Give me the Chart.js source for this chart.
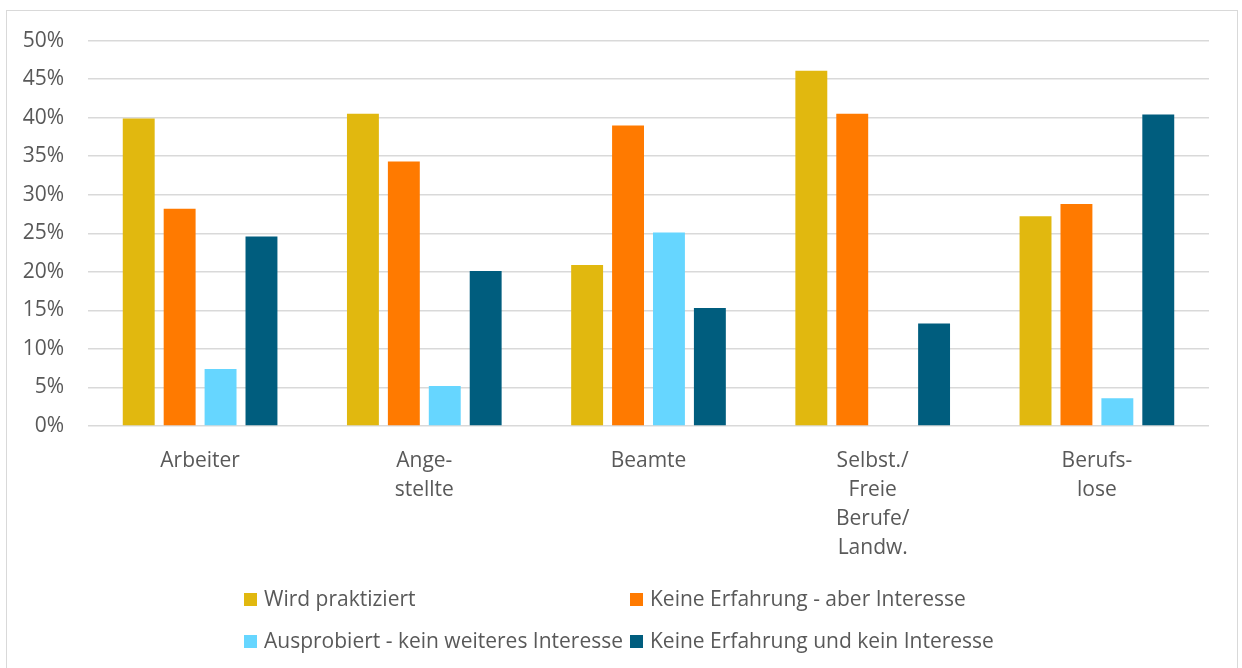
<!DOCTYPE html>
<html>
<head>
<meta charset="utf-8">
<script src="https://cdn.jsdelivr.net/npm/chart.js@4.4.0/dist/chart.umd.min.js"></script>
<style>
  html, body { margin: 0; padding: 0; background: #fff; overflow: hidden; }
  .chart-box {
    position: absolute; left: 6px; top: 10px;
    width: 1230px; height: 670px;
    border: 1px solid #d9d9d9;
    overflow: hidden;
  }
  canvas { display: block; margin-top: -7px; }
</style>
</head>
<body>
<div class="chart-box">
  <canvas id="chart" width="1230" height="664"></canvas>
</div>
<script>
// categories (multi-line labels as in the original)
const categories = [
  'Arbeiter',
  ['Ange-', 'stellte'],
  'Beamte',
  ['Selbst./', 'Freie', 'Berufe/', 'Landw.'],
  ['Berufs-', 'lose']
];

// values in percent
const wirdPraktiziert   = [39.9, 40.5, 20.9, 46.1, 27.2];
const keineErfAberInt   = [28.2, 34.3, 39.0, 40.5, 28.8];
const ausprobiertKein   = [7.4, 5.2, 25.1, null, 3.6];
const keineErfKeinInt   = [24.6, 20.1, 15.3, 13.3, 40.4];

const seriesNames = [
  'Wird praktiziert',
  'Keine Erfahrung - aber Interesse',
  'Ausprobiert - kein weiteres Interesse',
  'Keine Erfahrung und kein Interesse'
];
const seriesColors = ['#e1b80f', '#ff7a00', '#66d6ff', '#005d7e'];

const yTicks = [0, 5, 10, 15, 20, 25, 30, 35, 40, 45, 50];

const textColor = '#595959';
const fontFamily = '"Open Sans", Lato, sans-serif';

const allSeries = [wirdPraktiziert, keineErfAberInt, ausprobiertKein, keineErfKeinInt];
const datasets = allSeries.map((vals, i) => ({
  label: seriesNames[i],
  data: vals,
  backgroundColor: seriesColors[i],
  borderWidth: 0,
  barPercentage: 0.78,
  categoryPercentage: 0.73
}));

// legend in a 2x2 grid, like the office chart
const gridLegend = {
  id: 'gridLegend',
  afterDraw(chart) {
    const ctx = chart.ctx;
    const cols = [237, 623];
    const rows = [596, 638];
    ctx.save();
    ctx.font = '21px ' + fontFamily;
    ctx.textBaseline = 'middle';
    chart.data.datasets.forEach((ds, i) => {
      const x = cols[i % 2];
      const y = rows[Math.floor(i / 2)];
      ctx.fillStyle = ds.backgroundColor;
      ctx.fillRect(x, y - 7, 13, 13);
      ctx.fillStyle = textColor;
      ctx.fillText(ds.label, x + 20, y);
    });
    ctx.restore();
  }
};

new Chart(document.getElementById('chart'), {
  type: 'bar',
  data: { labels: categories, datasets: datasets },
  plugins: [gridLegend],
  options: {
    responsive: false,
    animation: false,
    layout: { padding: { top: 11, right: 28, left: 0, bottom: 0 } },
    plugins: {
      legend: { display: false },
      tooltip: { enabled: false }
    },
    scales: {
      x: {
        grid: { display: false, drawTicks: false },
        border: { display: false },
        ticks: {
          color: textColor,
          font: { family: fontFamily, size: 21, lineHeight: 1.37 },
          padding: 21,
          maxRotation: 0,
          autoSkip: false
        },
        afterFit: (s) => { s.height = 242; }
      },
      y: {
        min: 0,
        max: 50,
        afterBuildTicks: (s) => { s.ticks = yTicks.map(v => ({ value: v })); },
        grid: { color: '#d9d9d9', lineWidth: 1.5, drawTicks: false },
        border: { display: false },
        ticks: {
          color: textColor,
          font: { family: fontFamily, size: 21 },
          padding: 24,
          callback: (v) => v + '%'
        },
        afterFit: (s) => { s.width = 81; }
      }
    }
  }
});
</script>
</body>
</html>
